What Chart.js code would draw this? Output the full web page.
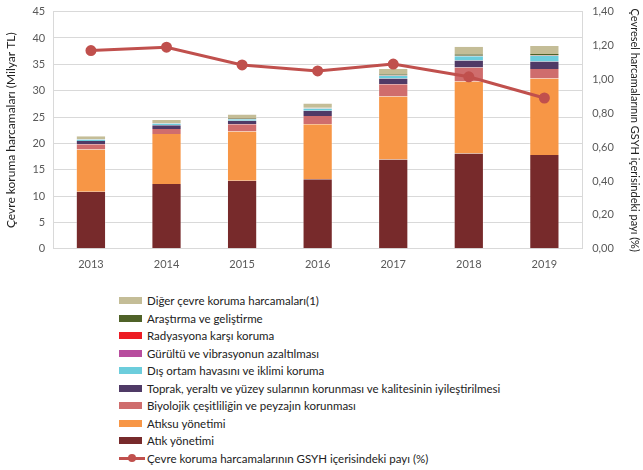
<!DOCTYPE html>
<html>
<head>
<meta charset="utf-8">
<script src="https://cdn.jsdelivr.net/npm/chart.js@4"></script>
<style>
  body { margin: 0; background: #fff; font-family: Lato, "Liberation Sans", sans-serif; overflow: hidden; }
  #wrap { position: relative; width: 643px; height: 470px; overflow: hidden; }
  #chartBox { position: absolute; left: 0; top: -5px; width: 643px; height: 285px; }
  #legend { position: absolute; left: 119px; top: 292px; font-size: 11.5px; color: #222; }
  #legend .row { height: 17.5px; display: flex; align-items: center; white-space: nowrap; }
  #legend .box { width: 23px; height: 7px; margin-right: 5px; }
  #legend .ln { width: 26px; height: 3px; margin-right: 2px; position: relative; }
  #legend .ln span { position: absolute; left: 9px; top: -2.5px; width: 8px; height: 8px; border-radius: 50%; }
</style>
</head>
<body>
<div id="wrap">
  <div id="chartBox"><canvas id="envChart"></canvas></div>
  <div id="legend"></div>
</div>
<script>
const years = ["2013", "2014", "2015", "2016", "2017", "2018", "2019"];

// milyar TL, alttan üste
const atik = [10.8, 12.3, 12.9, 13.2, 16.95, 18.1, 17.8];
const atiksu = [8.05, 9.5, 9.35, 10.45, 11.95, 13.65, 14.5];
const biyolojik = [1.0, 0.95, 1.4, 1.55, 2.3, 2.65, 1.8];
const toprak = [0.6, 0.7, 0.65, 1.0, 1.1, 1.3, 1.45];
const disOrtam = [0.3, 0.3, 0.3, 0.4, 0.5, 0.85, 1.05];
const gurultu = [0.03, 0.03, 0.03, 0.04, 0.04, 0.04, 0.04];
const radyasyon = [0.02, 0.02, 0.02, 0.03, 0.03, 0.03, 0.03];
const arastirma = [0.05, 0.05, 0.15, 0.1, 0.25, 0.3, 0.3];
const diger = [0.5, 0.6, 0.7, 0.8, 1.0, 1.4, 1.5];

// GSYH içerisindeki pay (%)
const pay = [1.17, 1.19, 1.085, 1.05, 1.09, 1.015, 0.89];

const barSeries = [
    { label: "Atık yönetimi", data: atik, color: "#772a2b" },
    { label: "Atıksu yönetimi", data: atiksu, color: "#f79646" },
    { label: "Biyolojik çeşitliliğin ve peyzajın korunması", data: biyolojik, color: "#cf6d6d" },
    { label: "Toprak, yeraltı ve yüzey sularının korunması ve kalitesinin iyileştirilmesi", data: toprak, color: "#4f3a66" },
    { label: "Dış ortam havasını ve iklimi koruma", data: disOrtam, color: "#6ccddc" },
    { label: "Gürültü ve vibrasyonun azaltılması", data: gurultu, color: "#b84d9e" },
    { label: "Radyasyona karşı koruma", data: radyasyon, color: "#ed1c24" },
    { label: "Araştırma ve geliştirme", data: arastirma, color: "#4f6228" },
    { label: "Diğer çevre koruma harcamaları(1)", data: diger, color: "#c4bd97" },
];
const lineLabel = "Çevre koruma harcamalarının GSYH içerisindeki payı (%)";
const lineColor = "#c0504d";

const tickFont = { family: "Lato, 'Liberation Sans', sans-serif", size: 11 };
const tickColor = "#595959";
const gridColor = "#d9d9d9";

const datasets = [
    {
        type: "line",
        label: lineLabel,
        data: pay,
        yAxisID: "y1",
        borderColor: lineColor,
        backgroundColor: lineColor,
        borderWidth: 3,
        pointRadius: 4,
        pointHoverRadius: 4,
        tension: 0,
        order: 0,
    },
];
barSeries.forEach((s) => {
    datasets.push({
        type: "bar",
        label: s.label,
        data: s.data,
        backgroundColor: s.color,
        borderColor: "rgba(255,255,255,0.35)",
        borderWidth: { left: 1, right: 1, top: 0, bottom: 0 },
        yAxisID: "y",
        categoryPercentage: 1,
        barPercentage: 0.4,
        order: 1,
    });
});

var ctx = document.getElementById("envChart").getContext("2d");
var envChart = new Chart(ctx, {
    data: { labels: years, datasets: datasets },
    options: {
        responsive: true,
        maintainAspectRatio: false,
        animation: false,
        layout: { padding: { top: 4, left: 4, right: 0, bottom: 0 } },
        plugins: {
            legend: { display: false },
            tooltip: { enabled: false },
        },
        scales: {
            x: {
                stacked: true,
                grid: { display: false, drawTicks: false },
                border: { color: gridColor },
                ticks: { color: tickColor, font: tickFont, padding: 9 },
            },
            y: {
                stacked: true,
                position: "left",
                min: 0,
                max: 45,
                ticks: { stepSize: 5, color: tickColor, font: tickFont, padding: 8 },
                grid: { color: gridColor, drawTicks: false },
                border: { color: gridColor },
                title: {
                    display: true,
                    text: "Çevre koruma harcamaları (Milyar TL)",
                    color: "#222",
                    font: { family: "Lato, 'Liberation Sans', sans-serif", size: 12 },
                    padding: { top: 0, bottom: 6 },
                },
            },
            y1: {
                position: "right",
                min: 0,
                max: 1.4,
                ticks: {
                    stepSize: 0.2,
                    color: tickColor,
                    font: tickFont,
                    padding: 10,
                    callback: (v) => v.toFixed(2).replace(".", ","),
                },
                grid: { drawOnChartArea: false, drawTicks: false },
                border: { color: gridColor },
                title: {
                    display: true,
                    text: "Çevresel harcamalarının GSYH içerisindeki payı (%)",
                    color: "#222",
                    font: { family: "Lato, 'Liberation Sans', sans-serif", size: 11 },
                    padding: { top: 2, bottom: 4 },
                },
            },
        },
    },
});

// legend: one item per row, top series first
const legendEl = document.getElementById("legend");
barSeries.slice().reverse().forEach((s) => {
    const row = document.createElement("div");
    row.className = "row";
    row.innerHTML = '<div class="box" style="background:' + s.color + '"></div>' + s.label;
    legendEl.appendChild(row);
});
const lineRow = document.createElement("div");
lineRow.className = "row";
lineRow.innerHTML = '<div class="ln" style="background:' + lineColor + '"><span style="background:' + lineColor + '"></span></div>' + lineLabel;
legendEl.appendChild(lineRow);
</script>
</body>
</html>
